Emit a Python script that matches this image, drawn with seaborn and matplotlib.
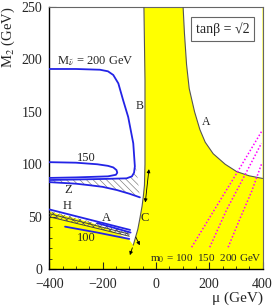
import numpy as np
import pandas as pd
import matplotlib
matplotlib.use('Agg')
import matplotlib.pyplot as plt
import seaborn as sns

# ---------------- 数据----------------
# 左侧白色（未排除）区域的边界
left_white_mu = [-400, -45, -43, -41, -41, -41, -43, -47, -52, -60, -68, -77, -85, -100, -150, -250, -400]
left_white_m2 = [250, 250, 215, 180, 140, 100, 80, 70, 60, 48.6, 38, 30, 23, 28, 35, 45, 55]

# 线 B / C（黄色区左边界）
line_bc_mu = [-45, -43, -41, -41, -41, -43, -47, -52, -60, -68, -77, -85]
line_bc_m2 = [250, 215, 180, 140, 100, 80, 70, 60, 48.6, 38, 30, 23]

# 曲线 A（右上白色区域边界）
curve_a_mu = [102, 107, 115, 125, 145, 165, 185, 215, 260, 303, 350, 400]
curve_a_m2 = [250, 225, 195, 172, 150, 133, 121, 110, 100, 93, 89, 86.5]

# 斯纽特里诺质量等值线
sn200_mu = [-400, -300, -210, -180, -160, -141, -123, -104, -85, -79, -82, -90, -110, -200, -300, -400]
sn200_m2 = [190.7, 190.7, 190, 188.5, 185, 177, 161, 145, 120, 98, 92, 88.5, 86.6, 86, 85.5, 85]
sn150_mu = [-400, -300, -220, -180, -160, -148, -145, -150, -180, -300, -400]
sn150_m2 = [102, 101.5, 100, 98.5, 97, 94.5, 92, 90, 88.5, 87.5, 87]
sn100_mu = [-341, -220, -100]
sn100_m2 = [40.6, 35, 28.9]

# Z 线与阴影区
z_mu = [-400, -300, -247, -200, -147, -100, -60]
z_m2 = [83, 81.5, 80, 78.5, 75.5, 72, 68.5]
zhatch_mu = [-400, -300, -200, -110, -90, -82, -79, -72, -60, -100, -147, -200, -300, -400]
zhatch_m2 = [85, 85.5, 86, 86.6, 88.5, 92, 98, 94, 68.5, 72, 75.5, 78.5, 81.5, 83]

# H / A 带
h_mu = [-400, -97]
h_m2 = [57, 37.5]
band_mu = [-400, -100]
band_top = [55.5, 36]
band_bot = [50, 31.5]
a_low_mu = [-400, -100]
a_low_m2 = [53, 33.5]
a_blue_mu = [-220, -95]
a_blue_m2 = [44, 35]

# m0 等值线（品红点线）
m0_100_mu = [134, 219, 303, 396]
m0_100_m2 = [21, 56.5, 91.4, 131]
m0_150_mu = [202, 265, 334, 396]
m0_150_m2 = [21, 56.5, 89.8, 120]
m0_200_mu = [271, 315, 359, 396]
m0_200_m2 = [21, 48, 74, 100]

# 箭头（起点, 终点）
arrow_double = [(-25, 98), (-41, 61)]
arrow_right = [(-80, 33), (-56, 20.5)]
arrow_down = [(-85, 23), (-101, 11)]

# ---------------- 绘图 ----------------
sns.set_style('ticks')
plt.rcParams['font.family'] = ['Liberation Serif', 'DejaVu Serif']
plt.rcParams['mathtext.fontset'] = 'stix'
plt.rcParams['hatch.linewidth'] = 0.45

fig = plt.figure(figsize=(2.72, 3.06), dpi=100)
ax = fig.add_axes([0.1813, 0.1199, 0.7838, 0.8582])

yellow = '#ffff00'
blue = '#2323e6'
gray = '#555555'

ax.set_facecolor(yellow)
ax.fill(left_white_mu, left_white_m2, color='white', lw=0, zorder=1)
ax.fill(curve_a_mu + [400], curve_a_m2 + [250], color='white', lw=0, zorder=1)

sns.lineplot(x=line_bc_mu, y=line_bc_m2, sort=False, estimator=None, color=gray, lw=0.8, ax=ax, zorder=3)
sns.lineplot(x=curve_a_mu, y=curve_a_m2, sort=False, estimator=None, color=gray, lw=0.8, ax=ax, zorder=3)

# 阴影
ax.fill(zhatch_mu, zhatch_m2, facecolor='none', edgecolor='#777777', hatch='\\\\\\\\\\', lw=0, zorder=2)
ax.fill_between(band_mu, band_bot, band_top, facecolor='none', edgecolor='#555555', hatch='xxxxx', lw=0, zorder=2)

for mu, m2 in [(sn200_mu, sn200_m2), (sn150_mu, sn150_m2), (sn100_mu, sn100_m2),
               (z_mu, z_m2), (h_mu, h_m2), (a_blue_mu, a_blue_m2)]:
    sns.lineplot(x=mu, y=m2, sort=False, estimator=None, color=blue, lw=1.3, ax=ax, zorder=4)
for mu, m2 in [(band_mu, band_bot), (a_low_mu, a_low_m2)]:
    sns.lineplot(x=mu, y=m2, sort=False, estimator=None, color='#444444', lw=0.7, ax=ax, zorder=4)

for mu, m2 in [(m0_100_mu, m0_100_m2), (m0_150_mu, m0_150_m2), (m0_200_mu, m0_200_m2)]:
    sns.lineplot(x=mu, y=m2, sort=False, estimator=None, color='#ff00ff', lw=1.1,
                 linestyle=(0, (1, 1.3)), ax=ax, zorder=4)

ax.annotate('', xy=arrow_double[1], xytext=arrow_double[0],
            arrowprops=dict(arrowstyle='<|-|>', lw=0.6, color='k', mutation_scale=5), zorder=5)
ax.annotate('', xy=arrow_right[1], xytext=arrow_right[0],
            arrowprops=dict(arrowstyle='-|>', lw=0.6, color='k', mutation_scale=5), zorder=5)
ax.annotate('', xy=arrow_down[1], xytext=arrow_down[0],
            arrowprops=dict(arrowstyle='-|>', lw=0.6, color='k', mutation_scale=5), zorder=5)

# 文字标注
ax.text(-372, 198, r'M$_{\tilde{\nu}}$ = 200 GeV', fontsize=9, ha='left', va='center')
ax.text(-63, 155, 'B', fontsize=8.5, ha='center', va='center')
ax.text(187, 140.5, 'A', fontsize=8.5, ha='center', va='center')
ax.text(-260, 105.7, '150', fontsize=9, ha='center', va='center')
ax.text(-329, 75.5, 'Z', fontsize=9, ha='center', va='center')
ax.text(-335, 60, 'H', fontsize=9, ha='center', va='center')
ax.text(-185, 49, 'A', fontsize=9, ha='center', va='center')
ax.text(-260, 29.5, '100', fontsize=9, ha='center', va='center')
ax.text(-41, 48.6, 'C', fontsize=9, ha='center', va='center')
ax.text(397, 10.5, r'm$_0$ = 100  150  200 GeV', fontsize=8, ha='right', va='center')
ax.text(251, 229, 'tanβ = √2', fontsize=10, ha='center', va='center',
        bbox=dict(boxstyle='square,pad=0.35', facecolor='white', edgecolor='#666666', lw=0.8))

ax.set_xlim(-400, 400)
ax.set_ylim(0, 250)
ax.set_xticks([-400, -200, 0, 200, 400])
ax.set_yticks([0, 50, 100, 150, 200, 250])
ax.set_xticks(np.arange(-400, 401, 50), minor=True)
ax.set_yticks(np.arange(0, 251, 10), minor=True)
ax.tick_params(which='both', direction='in', labelsize=10)
ax.tick_params(which='major', length=5, width=0.8)
ax.tick_params(which='minor', length=2.5, width=0.6)
ax.tick_params(axis='x', which='major', pad=6)
ax.tick_params(axis='y', which='major', pad=5)

ax.set_xlabel('μ (GeV)', fontsize=11, loc='right')
ax.xaxis.set_label_coords(1.0, -0.085)
ax.set_ylabel('M$_2$ (GeV)', fontsize=10.5, loc='top')
ax.yaxis.set_label_coords(-0.152, 1.0)

for s in ['left', 'bottom']:
    ax.spines[s].set_color('black')
    ax.spines[s].set_linewidth(1.0)
for s in ['top', 'right']:
    ax.spines[s].set_color('#666666')
    ax.spines[s].set_linewidth(0.8)

fig.savefig('out.png', dpi=100)
